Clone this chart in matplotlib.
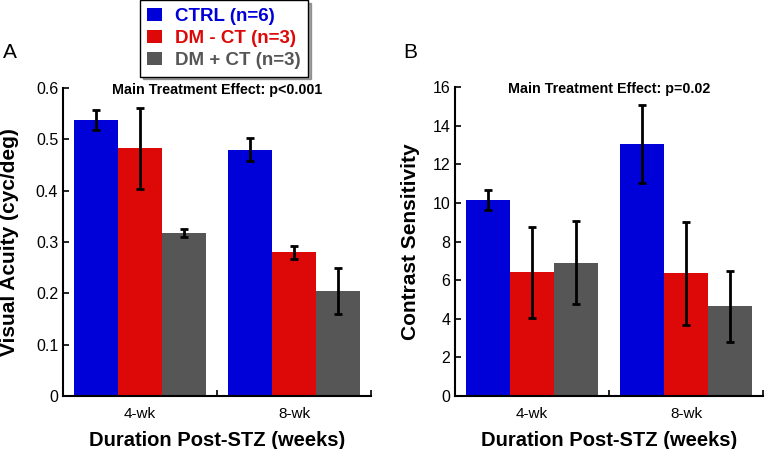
import numpy as np
import matplotlib
matplotlib.use("Agg")
import matplotlib.pyplot as plt
from matplotlib.patches import Patch

plt.rcParams['font.family'] = ['Liberation Sans', 'DejaVu Sans']

# data
durations = ["4-wk", "8-wk"]
groups = ["CTRL (n=6)", "DM - CT (n=3)", "DM + CT (n=3)"]
colors = ["#0000d8", "#dd0808", "#565656"]

acuity_mean = [[0.538, 0.480], [0.483, 0.280], [0.317, 0.205]]
acuity_err = [[0.020, 0.022], [0.079, 0.013], [0.008, 0.045]]

cs_mean = [[10.15, 13.05], [6.4, 6.35], [6.9, 4.65]]
cs_err = [[0.5, 2.0], [2.35, 2.65], [2.15, 1.85]]

fig = plt.figure(figsize=(7.65, 4.49), dpi=100)
ax_a = fig.add_axes([0.0824, 0.118, 0.4026, 0.686])
ax_b = fig.add_axes([0.5948, 0.118, 0.4026, 0.688])

x = np.arange(1, len(durations) + 1)
w = 0.286


def draw_panel(ax, means, errs, ylim, yticks, ylabel, ylabel_x, title):
    for i in range(len(groups)):
        pos = x + (i - 1) * w
        ax.bar(pos, means[i], width=w, color=colors[i], edgecolor='none', zorder=2)
        ax.errorbar(pos, means[i], yerr=errs[i], fmt='none', ecolor='black',
                    elinewidth=2, capsize=3, capthick=2, zorder=3)
    ax.set_xlim(0.5, 2.5)
    ax.set_ylim(*ylim)
    ax.set_yticks(yticks)
    ax.set_yticklabels(["{:g}".format(v) for v in yticks])
    ax.set_xticks(x)
    ax.set_xticklabels(durations)
    ax.set_xticks([1.5, 2.5], minor=True)
    ax.tick_params(axis='x', which='major', length=0, labelsize=11, pad=8)
    ax.tick_params(axis='x', which='minor', direction='in', length=4, width=1.2)
    ax.tick_params(axis='y', direction='in', length=4, width=1.2, labelsize=11.5)
    for s in ['top', 'right']:
        ax.spines[s].set_visible(False)
    for s in ['left', 'bottom']:
        ax.spines[s].set_linewidth(1.5)
    ax.set_ylabel(ylabel, fontsize=15, fontweight='bold')
    ax.yaxis.set_label_coords(ylabel_x, 0.5)
    ax.set_xlabel("Duration Post-STZ (weeks)", fontsize=14.5, fontweight='bold', labelpad=7)
    ax.text(0.5, 0.995, title, transform=ax.transAxes, ha='center', va='center',
            fontsize=10.3, fontweight='bold')


draw_panel(ax_a, acuity_mean, acuity_err, (0, 0.6), [0, 0.1, 0.2, 0.3, 0.4, 0.5, 0.6],
           "Visual Acuity (cyc/deg)", -0.143, "Main Treatment Effect: p<0.001")
draw_panel(ax_b, cs_mean, cs_err, (0, 16), [0, 2, 4, 6, 8, 10, 12, 14, 16],
           "Contrast Sensitivity", -0.114, "Main Treatment Effect: p=0.02")

fig.text(0.004, 0.884, "A", fontsize=15, va='center')
fig.text(0.527, 0.884, "B", fontsize=15, va='center')

handles = [Patch(facecolor=c, edgecolor='none') for c in colors]
leg = fig.legend(handles, groups, loc='upper left', bbox_to_anchor=(0.183, 1.0),
                 borderaxespad=0, frameon=True, fancybox=False, shadow=True,
                 handlelength=0.75, handleheight=0.75, handletextpad=0.7,
                 borderpad=0.4, labelspacing=0.25,
                 prop={'weight': 'bold', 'size': 13.5})
leg.get_frame().set_edgecolor('black')
leg.get_frame().set_linewidth(1.0)
for t, c in zip(leg.get_texts(), colors):
    t.set_color(c)

fig.savefig("out.png", dpi=100)
